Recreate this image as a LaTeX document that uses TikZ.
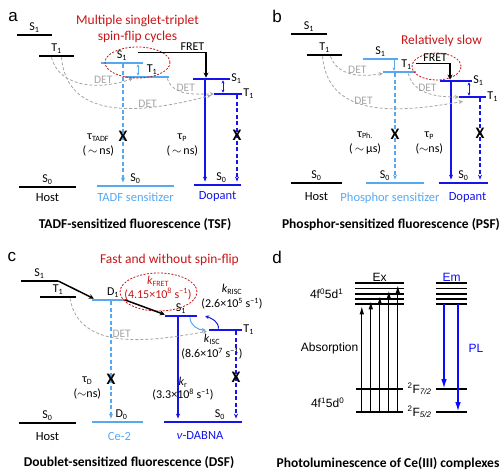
\documentclass[tikz,border=0pt]{standalone}
\usepackage{fontspec}
\setmainfont{Carlito}
\newfontfamily\arialfont{Liberation Sans}
\usetikzlibrary{positioning, calc, arrows.meta, shapes.geometric}
\definecolor{lblue}{RGB}{88,168,240}
\definecolor{dblue}{RGB}{20,20,235}
\definecolor{plblue}{RGB}{10,10,255}
\definecolor{detgray}{RGB}{165,165,165}
\definecolor{dred}{RGB}{200,20,20}
\newcommand{\lsub}[1]{\textsubscript{#1}}
\newcommand{\lsup}[1]{\textsuperscript{#1}}

\begin{document}
\begin{tikzpicture}[x=1pt, y=1pt, font=\fontsize{12}{15}\selectfont,
  lvl/.style={fill, inner sep=0pt, minimum height=2.4pt, minimum width=#1},
  dlvl/.style={fill, inner sep=0pt, minimum height=1.3pt, minimum width=#1},
  lbl/.style={inner sep=1pt},
  mol/.style={font=\fontsize{12.5}{15}\selectfont},
  vsol/.style={line width=1.1pt, shorten >=2pt, -{Stealth[length=5pt,width=4pt]}},
  vdash/.style={vsol, dash pattern=on 4pt off 2.5pt},
  both/.style={line width=0.9pt, {Stealth[length=3pt,width=3pt]}-{Stealth[length=3pt,width=3pt]}},
  one/.style={line width=0.9pt, -{Stealth[length=3pt,width=3pt]}},
  xmark/.style={font=\bfseries\fontsize{16}{16}\selectfont, inner sep=0pt, text=black},
  det/.style={detgray, line width=0.8pt, dash pattern=on 3pt off 2pt, -{Stealth[length=4pt,width=4pt]}},
  detlbl/.style={text=detgray, inner sep=1pt, font=\fontsize{11.5}{13}\selectfont},
  fret/.style={line width=1.5pt, -{Stealth[length=5pt,width=5pt]}},
  redell/.style={ellipse, draw=dred, line width=0.8pt, dash pattern=on 2pt off 1.5pt, inner sep=0pt},
  note/.style={text=dred, font=\fontsize{13.5}{16}\selectfont},
  caption/.style={font=\bfseries\fontsize{13.5}{15}\selectfont},
  panel/.style={font=\arialfont\fontsize{17}{17}\selectfont, inner sep=0pt},
  absarr/.style={line width=0.9pt, shorten >=1.5pt, -{Latex[length=8pt,width=4.5pt]}},
  emarr/.style={plblue, line width=1.2pt, -{Latex[length=9pt,width=5.5pt]}}]

\useasboundingbox (0,0) rectangle (500,-474);

% a
\node[panel] at (13,-17) {a};
\node[lvl=35, label={[lbl]above:S\lsub{1}}] (aHS1) at (34.5,-35) {};
\node[lvl=35, label={[lbl]above:T\lsub{1}}] (aHT1) at (56.5,-56) {};
\node[lvl=57, label={[lbl]above:S\lsub{0}}] (aHS0) at (47.5,-187) {};
\node[lvl=42, fill=lblue, label={[lbl]above:S\lsub{1}}] (aTS1) at (122,-63) {};
\node[lvl=44, fill=lblue, label={[lbl, xshift=5pt]above:T\lsub{1}}] (aTT1) at (147,-77) {};
\node[lvl=77, fill=lblue, label={[lbl]above:S\lsub{0}}] (aTS0) at (135.5,-186) {};
\node[lvl=37, fill=dblue, label={[lbl]right:S\lsub{1}}] (aDS1) at (211.5,-79) {};
\node[lvl=28, fill=dblue, label={[lbl]right:T\lsub{1}}] (aDT1) at (228,-94) {};
\node[lvl=47, fill=dblue, label={[lbl, xshift=4pt]above:S\lsub{0}}] (aDS0) at (217.5,-185) {};
\node[mol, below=2pt of aHS0] (aHost) {Host};
\node[mol, below=2pt of aTS0, text=lblue] (aSens) {TADF sensitizer};
\node[mol, below=2pt of aDS0, text=dblue] (aDop) {Dopant};
\node[caption] (aCap) at (135,-225) {TADF-sensitized fluorescence (TSF)};
\node[redell, minimum width=65pt, minimum height=31pt] (aEll) at (137.5,-62.5) {};
\node[note, align=center, above=0pt of aEll] (aNote) {Multiple singlet-triplet\\spin-flip cycles};
\draw[fret] ([xshift=-5pt, yshift=9pt]aTS1.north east) -| node[pos=0.4, above, inner sep=1.5pt] (aFret) {FRET} ([xshift=-5.5pt]aDS1.north);
\draw[both, lblue] ([xshift=16pt]aTS1.south) -- ([xshift=16pt]aTS1.south |- aTT1.north);
\draw[both, dblue] ([xshift=11.5pt]aDS1.south) -- ([xshift=11.5pt]aDS1.south |- aDT1.north);
\draw[vdash, lblue] ([xshift=1pt]aTS1.south) -- ([xshift=1pt]aTS1.south |- aTS0.north)
  node[xmark, pos=0.6] {X} node[pos=0.67, left=5pt, align=center, text=black] {τ\lsub{TADF}\\(\,$\sim$\,ns)};
\draw[vsol, dblue] ([xshift=-6.5pt]aDS1.south) -- ([xshift=-6.5pt]aDS1.south |- aDS0.north)
  node[pos=0.63, left=3pt, align=center, text=black] {τ\lsub{P}\\(\,$\sim$\,ns)};
\draw[vdash, dblue] ([xshift=9pt]aDT1.south) -- ([xshift=9pt]aDT1.south |- aDS0.north) node[xmark, pos=0.45] {X};
\draw[det] ([xshift=-5pt]aHT1.south) to[out=-75, in=200] node[detlbl, pos=0.7, above] {DET} ([xshift=8pt]aTT1.south west);
\draw[det] ([xshift=5pt]aHT1.south) to[out=-85, in=195, looseness=1.1] node[detlbl, pos=0.68, above=-1pt] {DET} ([xshift=-3pt]aDT1.south west);
\draw[det] ([xshift=-2pt]aTT1.south east) to[out=-70, in=180] node[detlbl, pos=0.5, above] {DET} (aDT1.west);

% b
\node[panel] at (277,-16) {b};
\node[lvl=36, label={[lbl]above:S\lsub{1}}] (bHS1) at (309,-34) {};
\node[lvl=35, label={[lbl]above:T\lsub{1}}] (bHT1) at (324.5,-55) {};
\node[lvl=51, label={[lbl]above:S\lsub{0}}] (bHS0) at (316.5,-183) {};
\node[lvl=35, fill=lblue, label={[lbl]above:S\lsub{1}}] (bPS1) at (380.5,-59) {};
\node[lvl=33, fill=lblue, label={[lbl, xshift=7pt]above:T\lsub{1}}] (bPT1) at (399.5,-72) {};
\node[lvl=58, fill=lblue, label={[lbl, xshift=-10pt]above:S\lsub{0}}] (bPS0) at (395,-183) {};
\node[lvl=32, fill=dblue, label={[lbl]right:S\lsub{1}}] (bDS1) at (456,-81) {};
\node[lvl=27, fill=dblue, label={[lbl]right:T\lsub{1}}] (bDT1) at (472.5,-97) {};
\node[lvl=49, fill=dblue, label={[lbl]above:S\lsub{0}}] (bDS0) at (463.5,-183) {};
\node[mol, below=5pt of bHS0] (bHost) {Host};
\node[mol, below=5pt of bPS0, xshift=-5pt, text=lblue] (bSens) {Phosphor sensitizer};
\node[mol, below=5pt of bDS0, xshift=4pt, text=dblue] (bDop) {Dopant};
\node[caption] (bCap) at (391,-225) {Phosphor-sensitized fluorescence (PSF)};
\node[redell, minimum width=49pt, minimum height=27pt] (bEll) at (436.5,-66.5) {};
\node[note, above=2pt of bEll, xshift=5pt] (bNote) {Relatively slow};
\draw[fret] ([yshift=7pt]bPT1.north east) -| node[pos=0.28, above, inner sep=1.5pt] (bFret) {FRET} ([xshift=-6pt]bDS1.north);
\draw[one, lblue] ([xshift=13.5pt]bPS1.south) -- ([xshift=13.5pt]bPS1.south |- bPT1.north);
\draw[both, dblue] ([xshift=13pt]bDS1.south) -- ([xshift=13pt]bDS1.south |- bDT1.north);
\draw[vdash, lblue] ([xshift=-4.5pt]bPT1.south) -- ([xshift=-4.5pt]bPT1.south |- bPS0.north)
  node[xmark, pos=0.56] {X} node[pos=0.64, left=10pt, align=center, text=black] {τ\lsub{Ph.}\\(\,$\sim$\,μs)};
\draw[vsol, dblue] ([xshift=-5pt]bDS1.south) -- ([xshift=-5pt]bDS1.south |- bDS0.north)
  node[pos=0.61, left=4pt, align=center, text=black] {τ\lsub{P}\\($\sim$ns)};
\draw[vdash, dblue] ([xshift=7.5pt]bDT1.south) -- ([xshift=7.5pt]bDT1.south |- bDS0.north) node[xmark, pos=0.42] {X};
\draw[det] ([xshift=6pt]bHT1.south) to[out=-70, in=190] node[detlbl, pos=0.6, above] {DET} (bPT1.south west);
\draw[det] ([xshift=-8pt]bPT1.south east) to[out=-75, in=180] node[detlbl, pos=0.5, above] {DET} (bDT1.west);
\draw[det] ([xshift=-2pt]bHT1.south) to[out=-85, in=190, looseness=1.1] node[detlbl, pos=0.45, above=-1pt] {DET} ([xshift=4pt, yshift=-3pt]bDT1.south west);

% c
\node[panel] at (12,-257) {c};
\node[lvl=37, label={[lbl]above:S\lsub{1}}] (cHS1) at (39.5,-281) {};
\node[lvl=36, label={[lbl]above:T\lsub{1}}] (cHT1) at (58,-297) {};
\node[lvl=57, label={[lbl]above:S\lsub{0}}] (cHS0) at (47.5,-423) {};
\node[lvl=36, fill=lblue, label={[lbl, xshift=3pt]above:D\lsub{1}}] (cDD1) at (110,-300) {};
\node[lvl=51, fill=lblue, label={[lbl, xshift=4pt]above:D\lsub{0}}] (cDD0) at (117.5,-422) {};
\node[lvl=32, fill=dblue, label={[lbl]above:S\lsub{1}}] (cNS1) at (181,-316) {};
\node[lvl=33, fill=dblue, label={[lbl]right:T\lsub{1}}] (cNT1) at (225.5,-330) {};
\node[lvl=78, fill=dblue, label={[lbl, xshift=17pt]above:S\lsub{0}}] (cNS0) at (203,-422) {};
\node[mol, below=5pt of cHS0] (cHost) {Host};
\node[mol, below=5pt of cDD0, xshift=2pt, text=lblue] (cSens) {Ce-2};
\node[mol, below=5pt of cNS0, xshift=-3pt, text=dblue] (cDop) {\textit{ν}-DABNA};
\node[caption] (cCap) at (129,-463) {Doublet-sensitized fluorescence (DSF)};
\node[redell, minimum width=77pt, minimum height=38pt] (cEll) at (158.5,-292) {};
\node[text=dred, align=center, font=\fontsize{12}{14}\selectfont] (cFret) at (158,-288) {\textit{k}\lsub{FRET}\\(4.15×10\lsup{8} s\lsup{−1})};
\node[note, above=3pt of cEll, xshift=11pt] (cNote) {Fast and without spin-flip};
\draw[fret] (cHS1.east) -- ([xshift=2pt]cDD1.north west);
\draw[fret] ([xshift=-3pt]cDD1.east) -- (cNS1.north west);
\draw[dblue, line width=1pt, -{Stealth[length=4pt,width=4pt]}] ([xshift=-7pt]cNT1.north) to[out=90, in=-20] ([xshift=8pt]cNS1.east);
\draw[lblue, line width=1pt, -{Stealth[length=4pt,width=4pt]}] ([xshift=9pt]cNS1.south) to[out=-90, in=180] ([xshift=-3pt]cNT1.west);
\node[align=center] (cRisc) at (232,-297) {\textit{k}\lsub{RISC}\\(2.6×10\lsup{5} s\lsup{−1})};
\node[align=center] (cIsc) at (212,-347) {\textit{k}\lsub{ISC}\\(8.6×10\lsup{7} s\lsup{−1})};
\draw[vdash, lblue] ([xshift=1pt]cDD1.south) -- ([xshift=1pt]cDD1.south |- cDD0.north)
  node[xmark, pos=0.65] {X} node[pos=0.73, left=6pt, align=center, text=black] {τ\lsub{D}\\($\sim$ns)};
\draw[vsol, dblue] ([xshift=-3pt]cNS1.south) -- ([xshift=-3pt]cNS1.south |- cNS0.north);
\node[align=center, font=\fontsize{12}{13}\selectfont] (cKr) at (183,-389) {\textit{k}\lsub{r}\\(3.3×10\lsup{8} s\lsup{−1})};
\draw[vdash, dblue] ([xshift=10.5pt]cNT1.south) -- ([xshift=10.5pt]cNT1.south |- cNS0.north) node[xmark, pos=0.51] {X};
\draw[det] ([xshift=12pt]cHT1.south) to[out=-80, in=190] node[detlbl, pos=0.5, above] {DET} ([xshift=-2pt]cNT1.south west);

% d
\node[panel] at (277,-257) {d};
\begin{scope}[font=\arialfont\fontsize{12}{14}\selectfont]
\foreach \i/\yy in {1/283,2/288.5,3/294,4/299,5/304} {
  \node[dlvl=49] (dEx\i) at (379.5,-\yy) {};
  \node[dlvl=31] (dEm\i) at (451.5,-\yy) {};
}
\node[dlvl=47] (dF7) at (379.5,-389) {};
\node[dlvl=47] (dF5) at (379.5,-412) {};
\node[dlvl=31] (dF7r) at (451.5,-389) {};
\node[dlvl=31] (dF5r) at (451.5,-412) {};
\foreach \i [evaluate=\i as \j using int(6-\i)] in {1,...,5}
  \draw[absarr] ($(dF5.west)+({9*\i-3},0)$) coordinate (dAb\i) -- (dAb\i |- dEx\j.south);
\draw[emarr] ([xshift=-7.5pt]dEm5.center) -- ([xshift=-7.5pt]dEm5.center |- dF7.north);
\draw[emarr] ([xshift=6.5pt]dEm5.center) -- ([xshift=6.5pt]dEm5.center |- dF5.north);
\node[above=0pt of dEx1, inner sep=0.5pt] (dExL) {Ex};
\node[above=0pt of dEm1, inner sep=0.5pt, text=plblue] (dEmL) {Em};
\node[left=8pt of dEx3] (dUp) {4f\lsup{0}5d\lsup{1}};
\node[left=8pt] (dLow) at ($(dF7.west)!0.6!(dF5.west)$) {4f\lsup{1}5d\lsup{0}};
\node (dF7L) at ($(dF7.east)!0.5!(dF7r.west)$) {\lsup{2}F\lsub{\textit{7/2}}};
\node (dF5L) at ($(dF5.east)!0.5!(dF5r.west)$) {\lsup{2}F\lsub{\textit{5/2}}};
\node[left=0pt] (dAbs) at ($(dAb1)+(0,64)$) {Absorption};
\node[right=7pt, text=plblue] (dPL) at ($(dEm5.center)+(6.5,-44)$) {PL};
\end{scope}
\node[caption] (dCap) at (388,-464) {Photoluminescence of Ce(III) complexes};
\end{tikzpicture}
\end{document}
